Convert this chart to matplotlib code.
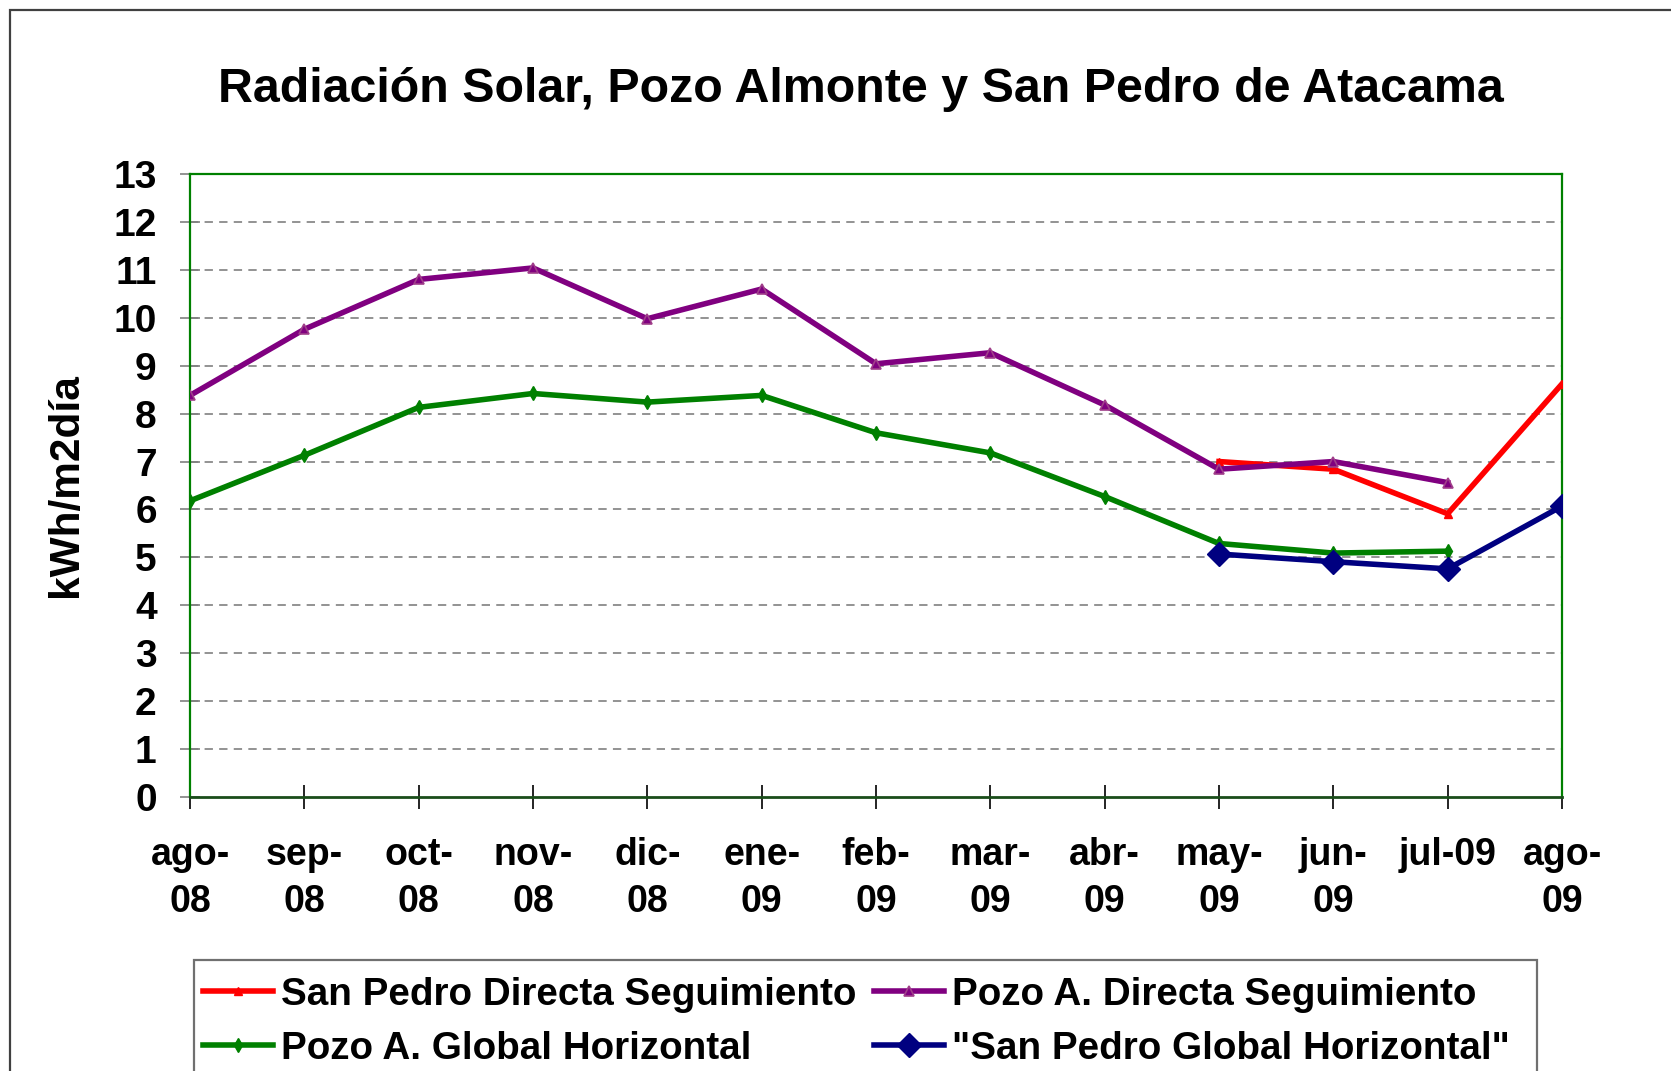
import numpy as np
import matplotlib
matplotlib.use("Agg")
import matplotlib.pyplot as plt
from matplotlib.patches import Rectangle

plt.rcParams['font.family'] = ['Liberation Sans', 'DejaVu Sans']
plt.rcParams['font.weight'] = 'bold'
plt.rcParams['lines.scale_dashes'] = False

months = ["ago-\n08", "sep-\n08", "oct-\n08", "nov-\n08", "dic-\n08", "ene-\n09",
          "feb-\n09", "mar-\n09", "abr-\n09", "may-\n09", "jun-\n09", "jul-09", "ago-\n09"]
nan = np.nan
sp_directa = [nan, nan, nan, nan, nan, nan, nan, nan, nan, 7.00, 6.84, 5.91, 8.62]
pozo_directa = [8.38, 9.76, 10.80, 11.04, 9.98, 10.60, 9.04, 9.27, 8.18, 6.84, 7.00, 6.56, nan]
pozo_global = [6.18, 7.13, 8.13, 8.42, 8.24, 8.38, 7.60, 7.18, 6.27, 5.29, 5.09, 5.13, nan]
sp_global = [nan, nan, nan, nan, nan, nan, nan, nan, nan, 5.07, 4.91, 4.76, 6.07]
yticks = list(range(0, 14))

W, H = 1671, 1071
fig = plt.figure(figsize=(W / 100, H / 100), dpi=100)
fig.patch.set_facecolor('white')
# outer chart-area frame
fig.patches.append(Rectangle((10 / W, -0.1), 1.2, 1 - 10 / H + 0.1, transform=fig.transFigure,
                             fill=False, edgecolor='#404040', linewidth=1.6))
# legend frame (extends below the image edge)
fig.patches.append(Rectangle((194 / W, -0.1), (1537 - 194) / W, 1 - 960 / H + 0.1,
                             transform=fig.transFigure, fill=False, edgecolor='#707070',
                             linewidth=1.6, zorder=5))

ax = fig.add_axes([190 / W, 1 - 797 / H, (1562 - 190) / W, (797 - 174) / H])
x = np.arange(len(months))

for y in yticks[1:-1]:
    ax.axhline(y, color='#808080', linewidth=1.2, dashes=(6, 4.5), zorder=1)

l_red, = ax.plot(x, sp_directa, color='#FF0000', lw=4, marker='^', ms=6,
                 mfc='#FF0000', mec='#FF0000', zorder=3, label='San Pedro Directa Seguimiento')
l_pur, = ax.plot(x, pozo_directa, color='#800080', lw=4, marker='^', ms=7,
                 mfc='#800080', mec='#A0408A', mew=1.2, zorder=4, label='Pozo A. Directa Seguimiento')
l_grn, = ax.plot(x, pozo_global, color='#008000', lw=4, marker='d', ms=7,
                 mfc='#008000', mec='#008000', zorder=3, label='Pozo A. Global Horizontal')
l_blu, = ax.plot(x, sp_global, color='#000080', lw=4, marker='D', ms=12.5,
                 mfc='#000080', mec='#000080', zorder=5, label='"San Pedro Global Horizontal"')

ax.set_xlim(0, 12)
ax.set_ylim(0, 13)
ax.set_yticks(yticks)
ax.set_xticks(x)
ax.set_xticklabels(months, fontsize=27, fontweight='bold', linespacing=1.42, va='top')
ax.tick_params(axis='x', direction='inout', length=17, width=1.2, color='black', pad=20)
ax.tick_params(axis='y', direction='inout', length=14, width=1.2, color='#808080',
               labelsize=28, pad=17)
for lab in ax.get_yticklabels():
    lab.set_fontweight('bold')

for s in ['left', 'top', 'right']:
    ax.spines[s].set_color('#008000')
    ax.spines[s].set_linewidth(1.6)
ax.spines['bottom'].set_color('#1A4D1A')
ax.spines['bottom'].set_linewidth(2)

ax.set_ylabel('kWh/m2día', fontsize=30.5, fontweight='bold', labelpad=20)

fig.text(861 / W, 1 - 89 / H, 'Radiación Solar, Pozo Almonte y San Pedro de Atacama',
         ha='center', va='center', fontsize=34.8, fontweight='bold')

leg = fig.legend([l_red, l_grn, l_pur, l_blu],
                 [l_red.get_label(), l_grn.get_label(), l_pur.get_label(), l_blu.get_label()],
                 ncol=2, loc='upper left', bbox_to_anchor=(203 / W, 1 - 977 / H),
                 fontsize=27.8, frameon=False, handlelength=1.82,
                 handletextpad=0.2, columnspacing=0.45, labelspacing=0.46,
                 borderpad=0, borderaxespad=0)
for t in leg.get_texts():
    t.set_fontweight('bold')

fig.savefig('out.png', dpi=100)
